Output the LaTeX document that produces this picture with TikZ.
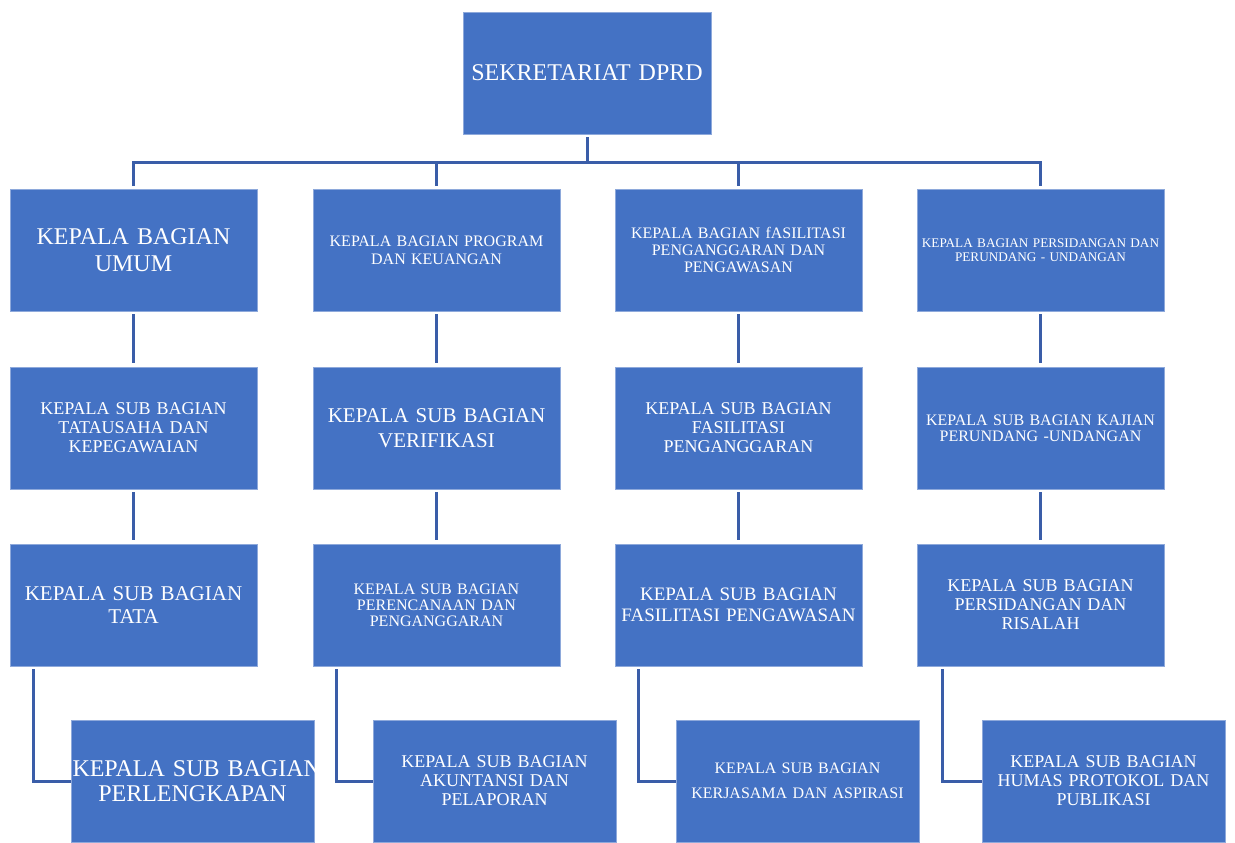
\documentclass[tikz,border=0pt]{standalone}
\usepackage{fontspec}
\setmainfont{Liberation Serif}
\definecolor{boxfill}{HTML}{4472C4}
\definecolor{boxedge}{HTML}{8EA9DB}
\definecolor{linec}{HTML}{3A5DA8}
\newcommand{\fs}[2]{\fontsize{#1}{#2}\selectfont}
\begin{document}
\begin{tikzpicture}[x=0.5pt,y=-0.5pt,
  orgbox/.style={rectangle, fill=boxfill, draw=boxedge, line width=0.5pt,
    minimum width=123.5pt, minimum height=61pt, inner sep=0pt, outer sep=0pt,
    text width=123pt, text=white, align=center},
  lowbox/.style={orgbox, minimum width=121.5pt, text width=121pt},
  conn/.style={draw=linec, line width=1.5pt},
  vconn/.style={conn, shorten <=1.5pt, shorten >=2pt}]
\useasboundingbox (0,0) rectangle (1235,842);

% top
\node[orgbox, minimum width=124pt, font=\fs{12}{14}] (top) at (587,73) {SEKRETARIAT DPRD};

% row 1
\node[orgbox, font=\fs{12}{13.5}] (a1) at (133.5,250) {KEPALA BAGIAN\\UMUM};
\node[orgbox, font=\fs{8}{9}] (a2) at (436.5,250) {KEPALA BAGIAN PROGRAM\\DAN KEUANGAN};
\node[orgbox, font=\fs{8}{8.5}] (a3) at (738.5,250) {KEPALA BAGIAN fASILITASI\\PENGANGGARAN DAN\\PENGAWASAN};
\node[orgbox, font=\fs{6.6}{7}] (a4) at (1040.5,250) {KEPALA BAGIAN PERSIDANGAN DAN\\PERUNDANG - UNDANGAN};

% row 2
\node[orgbox, font=\fs{9}{9.5}] (b1) at (133.5,428) {KEPALA SUB BAGIAN\\TATAUSAHA DAN\\KEPEGAWAIAN};
\node[orgbox, font=\fs{10.5}{12.5}] (b2) at (436.5,428) {KEPALA SUB BAGIAN\\VERIFIKASI};
\node[orgbox, font=\fs{9}{9.5}] (b3) at (738.5,428) {KEPALA SUB BAGIAN\\FASILITASI\\PENGANGGARAN};
\node[orgbox, font=\fs{8}{8}] (b4) at (1040.5,428) {KEPALA SUB BAGIAN KAJIAN\\PERUNDANG -UNDANGAN};

% row 3
\node[orgbox, font=\fs{10.5}{11.5}] (c1) at (133.5,605) {KEPALA SUB BAGIAN\\TATA};
\node[orgbox, font=\fs{8}{8}] (c2) at (436.5,605) {KEPALA SUB BAGIAN\\PERENCANAAN DAN\\PENGANGGARAN};
\node[orgbox, font=\fs{9.5}{10.5}] (c3) at (738.5,605) {KEPALA SUB BAGIAN\\FASILITASI PENGAWASAN};
\node[orgbox, font=\fs{9}{9.5}] (c4) at (1040.5,605) {KEPALA SUB BAGIAN\\PERSIDANGAN DAN\\RISALAH};

% row 4
\node[lowbox, font=\fs{12}{12.5}] (d1) at (192.5,781) {\makebox[121pt][l]{\hspace{0.5pt}KEPALA SUB BAGIAN}\\PERLENGKAPAN};
\node[lowbox, font=\fs{9}{9.5}] (d2) at (494.5,781) {KEPALA SUB BAGIAN\\AKUNTANSI DAN\\PELAPORAN};
\node[lowbox, font=\fs{8}{12.5}] (d3) at (797.5,781) {KEPALA SUB BAGIAN\\KERJASAMA DAN ASPIRASI};
\node[lowbox, font=\fs{9}{9.5}] (d4) at (1103.5,781) {KEPALA SUB BAGIAN\\HUMAS PROTOKOL DAN\\PUBLIKASI};

% bus
\coordinate (bus) at (587,162);
\draw[conn, shorten <=1.5pt] (top.south) -- (bus);
\draw[conn, shorten <=1.5pt, shorten >=1.5pt] (a1.north) -- (a1.north |- bus) -- (a4.north |- bus) -- (a4.north);
\draw[conn, shorten >=1.5pt] (a2.north |- bus) -- (a2.north);
\draw[conn, shorten >=1.5pt] (a3.north |- bus) -- (a3.north);

% verticals
\foreach \i in {1,2,3,4}{
  \draw[vconn] (a\i.south) -- (b\i.north);
  \draw[vconn] (b\i.south) -- (c\i.north);
}

% elbows
\foreach \i in {1,2,3}{
  \draw[conn, shorten <=1.5pt, line join=miter] ([xshift=11.5pt]c\i.south west) |- (d\i.west);
}
\draw[conn, shorten <=1.5pt, line join=miter] ([xshift=12.5pt]c4.south west) |- (d4.west);
\end{tikzpicture}
\end{document}
